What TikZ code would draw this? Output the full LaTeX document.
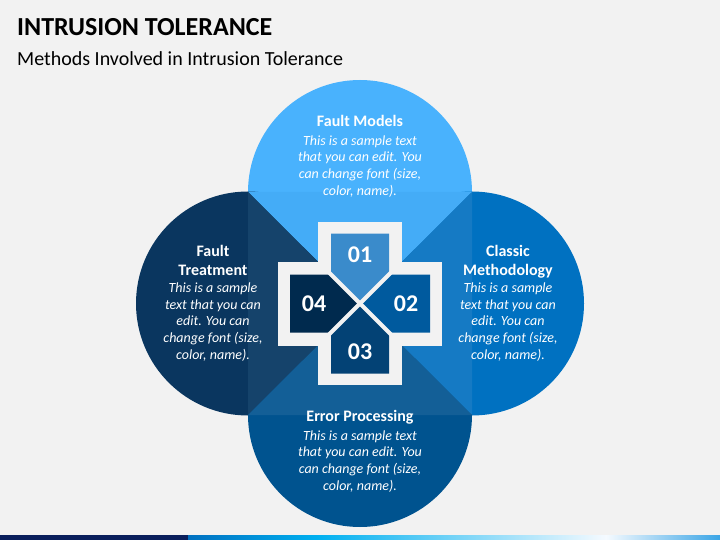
\documentclass[tikz,border=0pt]{standalone}
\usepackage{fontspec}
\setmainfont{Carlito}
\definecolor{bg}{HTML}{F2F2F2}
\definecolor{topC}{HTML}{49B2FD}
\definecolor{topT}{HTML}{44ACF7}
\definecolor{leftC}{HTML}{0A365F}
\definecolor{leftT}{HTML}{15436B}
\definecolor{rightC}{HTML}{0071C1}
\definecolor{rightT}{HTML}{157AC4}
\definecolor{botC}{HTML}{00538F}
\definecolor{botT}{HTML}{135F97}
\definecolor{pone}{HTML}{3A8BCB}
\definecolor{ptwo}{HTML}{005A9E}
\definecolor{pthree}{HTML}{034275}
\definecolor{pfour}{HTML}{002A4E}
\definecolor{navy}{HTML}{0A1F5C}
\definecolor{gA}{HTML}{0070C0}
\definecolor{gB}{HTML}{00B0F0}
\definecolor{gC}{HTML}{F5FAFF}
\definecolor{gD}{HTML}{3AA5E6}
\begin{document}
\begin{tikzpicture}[x=1pt,y=-1pt,
  ttl/.style={font=\bfseries\fontsize{16}{19}\selectfont, text=white, align=center, anchor=base, inner sep=0pt},
  body/.style={font=\itshape\fontsize{14}{16.8}\selectfont, text=white, align=center, anchor=base, inner sep=0pt},
  num/.style={font=\bfseries\fontsize{24}{28}\selectfont, text=white, inner sep=0pt},
  gap/.style={bg, line width=4pt}]
\useasboundingbox (0,0) rectangle (720,540);
\fill[bg] (0,0) rectangle (720,540);
% circles
\fill[topC] (360,192) circle[radius=112pt];
\fill[leftC] (248,303.5) circle[radius=112pt];
\fill[rightC] (472,303.5) circle[radius=112pt];
\fill[botC] (360,415) circle[radius=112pt];
% triangles
\coordinate (C) at (360,303.5);
\fill[topT] (248,192) -- (472,192) -- (C) -- cycle;
\fill[leftT] (248,192) -- (248,415) -- (C) -- cycle;
\fill[rightT] (472,192) -- (472,415) -- (C) -- cycle;
\fill[botT] (248,415) -- (472,415) -- (C) -- cycle;
% cross
\fill[bg] (318,222) rectangle (402,385);
\fill[bg] (278,261.5) rectangle (442,345.5);
% pieces
\fill[pone] (331,233.5) -- (389,233.5) -- (389,274.5) -- (C) -- (331,274.5) -- cycle;
\fill[ptwo] (430,274.5) -- (430,332.5) -- (389,332.5) -- (C) -- (389,274.5) -- cycle;
\fill[pthree] (331,373.5) -- (389,373.5) -- (389,332.5) -- (C) -- (331,332.5) -- cycle;
\fill[pfour] (290,274.5) -- (290,332.5) -- (331,332.5) -- (C) -- (331,274.5) -- cycle;
\draw[gap] (325,268.5) -- (395,338.5);
\draw[gap] (395,268.5) -- (325,338.5);
\node[num] (n1) at (360,255) {01};
\node[num] (n2) at (406,303.5) {02};
\node[num] (n3) at (360,352) {03};
\node[num] (n4) at (314,303.5) {04};
% texts (base = baseline of last line)
\node[ttl] (tt) at (360,126.7) {Fault Models};
\node[body] (tb) at (360,195.5) {This is a sample text\\that you can edit. You\\can change font (size,\\color, name).};
\node[ttl] (lt) at (213,275.7) {Fault\\Treatment};
\node[body] (lb) at (213,359.5) {This is a sample\\text that you can\\edit. You can\\change font (size,\\color, name).};
\node[ttl] (rt) at (508,275.7) {Classic\\Methodology};
\node[body] (rb) at (508,359.5) {This is a sample\\text that you can\\edit. You can\\change font (size,\\color, name).};
\node[ttl] (bt) at (360,421.7) {Error Processing};
\node[body] (bb) at (360,490.5) {This is a sample text\\that you can edit. You\\can change font (size,\\color, name).};
% title
\node[anchor=base west, inner sep=0pt, font=\bfseries\fontsize{26}{30}\selectfont] (title) at (17,36) {INTRUSION TOLERANCE};
\node[anchor=base west, inner sep=0pt, font=\fontsize{20}{24}\selectfont] (sub) at (17,65.7) {Methods Involved in Intrusion Tolerance};
% bottom bar
\fill[navy] (0,535) rectangle (188,540);
\shade[left color=gA, right color=gB] (188,535) rectangle (317,540);
\shade[left color=gB, right color=gC] (317,535) rectangle (606,540);
\shade[left color=gC, right color=gD] (606,535) rectangle (720,540);
\end{tikzpicture}
\end{document}
